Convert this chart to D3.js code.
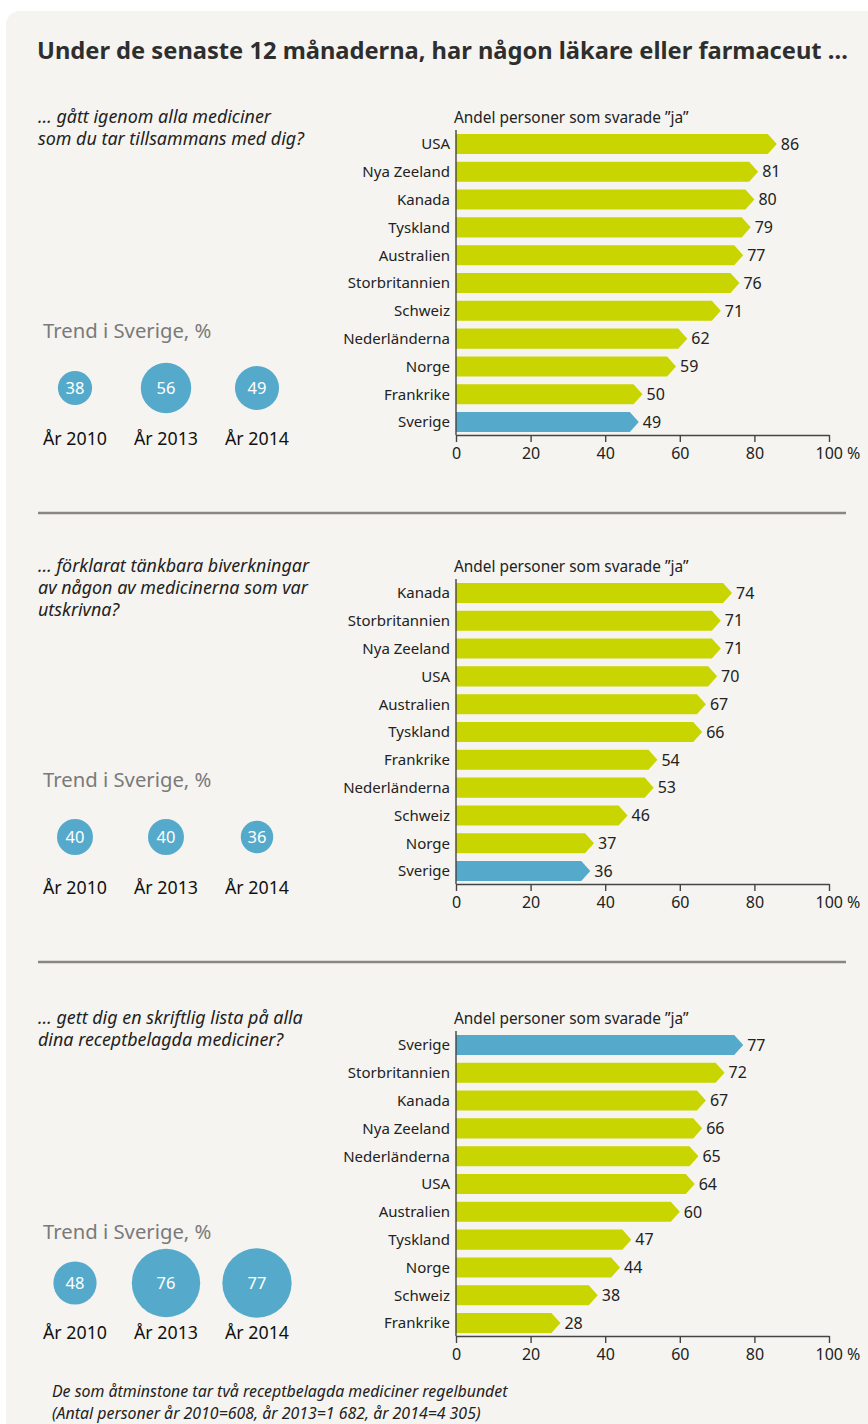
<!DOCTYPE html>
<html>
<head>
<meta charset="utf-8">
<script src="https://cdn.jsdelivr.net/npm/d3@7"></script>
<style>
  body { margin: 0; background: #fff; }
  svg { display: block; font-family: "Noto Sans", "Open Sans", sans-serif; }
</style>
</head>
<body>
<svg id="chart" width="868" height="1424"></svg>
<script>
// data
const title = "Under de senaste 12 månaderna, har någon läkare eller farmaceut …";
const subtitle = "Andel personer som svarade ”ja”";
const trendTitle = "Trend i Sverige, %";
const years = ["År 2010", "År 2013", "År 2014"];
const xTicks = [0, 20, 40, 60, 80, 100];

const questions1 = ["… gått igenom alla mediciner", "som du tar tillsammans med dig?"];
const countries1 = ["USA", "Nya Zeeland", "Kanada", "Tyskland", "Australien", "Storbritannien", "Schweiz", "Nederländerna", "Norge", "Frankrike", "Sverige"];
const values1 = [86, 81, 80, 79, 77, 76, 71, 62, 59, 50, 49];
const trend1 = [38, 56, 49];

const questions2 = ["… förklarat tänkbara biverkningar", "av någon av medicinerna som var", "utskrivna?"];
const countries2 = ["Kanada", "Storbritannien", "Nya Zeeland", "USA", "Australien", "Tyskland", "Frankrike", "Nederländerna", "Schweiz", "Norge", "Sverige"];
const values2 = [74, 71, 71, 70, 67, 66, 54, 53, 46, 37, 36];
const trend2 = [40, 40, 36];

const questions3 = ["… gett dig en skriftlig lista på alla", "dina receptbelagda mediciner?"];
const countries3 = ["Sverige", "Storbritannien", "Kanada", "Nya Zeeland", "Nederländerna", "USA", "Australien", "Tyskland", "Norge", "Schweiz", "Frankrike"];
const values3 = [77, 72, 67, 66, 65, 64, 60, 47, 44, 38, 28];
const trend3 = [48, 76, 77];

const footnote = ["De som åtminstone tar två receptbelagda mediciner regelbundet",
                  "(Antal personer år 2010=608, år 2013=1 682, år 2014=4 305)"];

const panels = [
  { q: questions1, c: countries1, v: values1, t: trend1, top: 0, circleY: 388 },
  { q: questions2, c: countries2, v: values2, t: trend2, top: 449, circleY: 388 },
  { q: questions3, c: countries3, v: values3, t: trend3, top: 901, circleY: 382 }
];

const green = "#c9d500";
const blue = "#55aacb";
const svg = d3.select("#chart");

// background panel
svg.append("rect")
  .attr("x", 6).attr("y", 11)
  .attr("width", 900).attr("height", 1440)
  .attr("rx", 14)
  .attr("fill", "#f5f4f0");

svg.append("text")
  .attr("x", 37).attr("y", 59)
  .attr("font-size", 23.5).attr("font-weight", "bold")
  .attr("fill", "#2e2e2e")
  .attr("textLength", 811).attr("lengthAdjust", "spacingAndGlyphs")
  .text(title);

const x = d3.scaleLinear().domain([0, 100]).range([456, 829]);
const r = d3.scaleLinear().domain([0, 100]).range([0, 45]);
const cx = d3.scalePoint().domain(years).range([75, 257]);

panels.forEach((p, pi) => {
  const g = svg.append("g").attr("transform", `translate(0,${p.top})`);

  const y = d3.scaleBand().domain(p.c).range([130, 436]).paddingInner(0.28).paddingOuter(0.14);
  const h = y.bandwidth();
  const notch = 9;

  g.selectAll(".q").data(p.q).enter().append("text")
    .attr("x", 38).attr("y", (d, i) => 123 + i * 22)
    .attr("font-size", 17.9).attr("font-style", "italic")
    .attr("fill", "#222")
    .text(d => d);

  g.append("text")
    .attr("x", 454).attr("y", 123)
    .attr("font-size", 15.4).attr("fill", "#222")
    .text(subtitle);

  // bars as arrows
  g.selectAll(".bar").data(p.c.map((c, i) => ({ c, v: p.v[i] }))).enter()
    .append("path")
    .attr("fill", d => d.c === "Sverige" ? blue : green)
    .attr("d", d => {
      const y0 = y(d.c), x0 = x(0), x1 = x(d.v);
      return `M${x0},${y0}H${x1 - notch}L${x1},${y0 + h / 2}L${x1 - notch},${y0 + h}H${x0}Z`;
    });

  g.selectAll(".val").data(p.v).enter().append("text")
    .attr("x", d => x(d) + 4)
    .attr("y", (d, i) => y(p.c[i]) + h / 2)
    .attr("dy", "0.36em")
    .attr("font-size", 16).attr("fill", "#222")
    .text(d => d);

  g.selectAll(".cat").data(p.c).enter().append("text")
    .attr("x", 450)
    .attr("y", d => y(d) + h / 2)
    .attr("dy", "0.36em")
    .attr("text-anchor", "end")
    .attr("font-size", 15).attr("fill", "#222")
    .text(d => d);

  // axes
  g.append("line")
    .attr("x1", x(0)).attr("x2", x(0))
    .attr("y1", 130).attr("y2", 435)
    .attr("stroke", "#444").attr("stroke-width", 1.4);

  const ax = g.append("g")
    .attr("transform", "translate(0,435)")
    .call(d3.axisBottom(x).tickValues(xTicks).tickSize(7).tickSizeOuter(0)
      .tickFormat(d => d === 100 ? "100 %" : d));
  ax.select(".domain").attr("stroke", "#444").attr("stroke-width", 1.4);
  ax.selectAll(".tick line").attr("stroke", "#444").attr("stroke-width", 1.4);
  ax.selectAll(".tick text")
    .attr("font-size", 16).attr("fill", "#222")
    .attr("font-family", "'Noto Sans', 'Open Sans', sans-serif")
    .attr("y", 13);
  ax.selectAll(".tick").filter(d => d === 100).select("text")
    .attr("text-anchor", "start").attr("x", -14);

  // trend bubbles
  g.append("text")
    .attr("x", 43).attr("y", 338)
    .attr("font-size", 20.3).attr("fill", "#7a7a7a")
    .text(trendTitle);

  g.selectAll(".bubble").data(p.t).enter().append("circle")
    .attr("cx", (d, i) => cx(years[i]))
    .attr("cy", p.circleY)
    .attr("r", d => r(d))
    .attr("fill", blue);

  g.selectAll(".bval").data(p.t).enter().append("text")
    .attr("x", (d, i) => cx(years[i]))
    .attr("y", p.circleY)
    .attr("dy", "0.36em")
    .attr("text-anchor", "middle")
    .attr("font-size", 16.5).attr("fill", "#fff")
    .text(d => d);

  g.selectAll(".year").data(years).enter().append("text")
    .attr("x", d => cx(d))
    .attr("y", pi === 2 ? 432 : 439)
    .attr("dy", "0.36em")
    .attr("text-anchor", "middle")
    .attr("font-size", 17.8).attr("fill", "#111")
    .text(d => d);

  if (pi < 2) {
    g.append("line")
      .attr("x1", 38).attr("x2", 846)
      .attr("y1", 513).attr("y2", 513)
      .attr("stroke", "#8a8782").attr("stroke-width", 2.5);
  }
});

svg.selectAll(".foot").data(footnote).enter().append("text")
  .attr("x", 52).attr("y", (d, i) => 1397 + i * 22)
  .attr("font-size", 15.9).attr("font-style", "italic")
  .attr("fill", "#222")
  .text(d => d);
</script>
</body>
</html>
